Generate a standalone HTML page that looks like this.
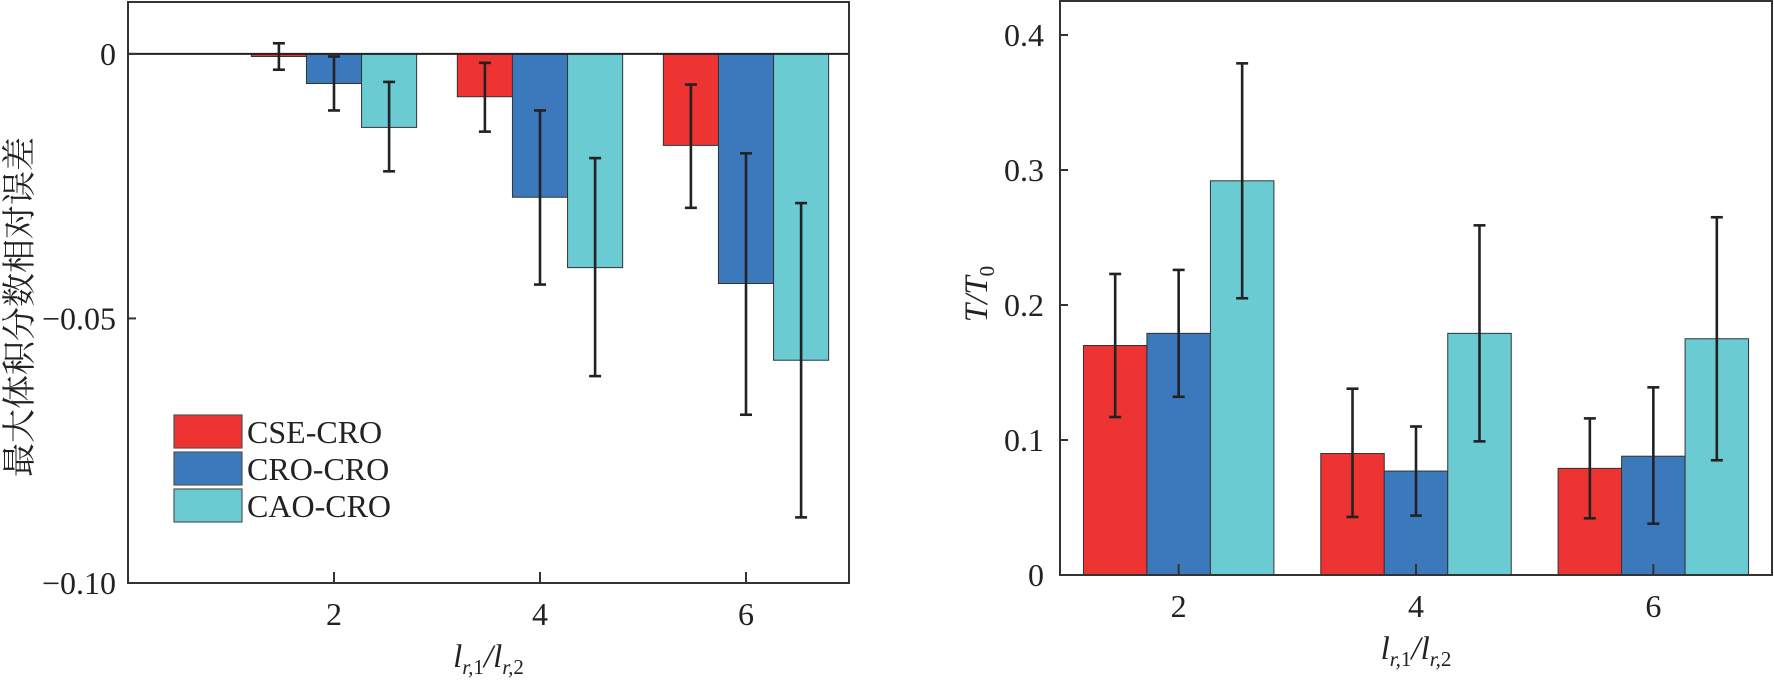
<!DOCTYPE html>
<html><head><meta charset="utf-8">
<style>
html,body{margin:0;padding:0;background:#fff;}
svg{display:block;}
text{font-family:"Liberation Serif","Noto Serif CJK SC",serif;fill:#222;}
</style></head>
<body>
<svg id="chart" width="1774" height="682" viewBox="0 0 1774 682" xmlns="http://www.w3.org/2000/svg">
<g id="left"></g>
<g id="right"></g>
</svg>
<script>
// ---- data ----
const categories = [2, 4, 6];
const seriesNames = ["CSE-CRO", "CRO-CRO", "CAO-CRO"];
const colors = ["#EE3333", "#3C78BC", "#6ACBD3"];
// left chart: max volume fraction relative error
const leftCSE = [-0.0005, -0.0081, -0.0173];
const leftCRO = [-0.0056, -0.0271, -0.0434];
const leftCAO = [-0.0139, -0.0404, -0.0579];
const leftCSEHi = [0.0020, -0.0017, -0.0058];
const leftCSELo = [-0.0030, -0.0147, -0.0291];
const leftCROHi = [-0.0005, -0.0107, -0.0188];
const leftCROLo = [-0.0107, -0.0436, -0.0682];
const leftCAOHi = [-0.0053, -0.0197, -0.0282];
const leftCAOLo = [-0.0222, -0.0609, -0.0876];
const leftTicks = [0, -0.05, -0.10];
const leftTickLabels = ["0", "\u22120.05", "\u22120.10"];
// right chart: T/T0
const rightCSE = [0.170, 0.090, 0.079];
const rightCRO = [0.179, 0.077, 0.088];
const rightCAO = [0.292, 0.179, 0.175];
const rightCSEHi = [0.223, 0.138, 0.116];
const rightCSELo = [0.117, 0.043, 0.042];
const rightCROHi = [0.226, 0.110, 0.139];
const rightCROLo = [0.132, 0.044, 0.038];
const rightCAOHi = [0.379, 0.259, 0.265];
const rightCAOLo = [0.205, 0.099, 0.085];
const rightTicks = [0, 0.1, 0.2, 0.3, 0.4];
const rightTickLabels = ["0", "0.1", "0.2", "0.3", "0.4"];

const NS = "http://www.w3.org/2000/svg";
function mk(parent, tag, attrs, text){
  const e = document.createElementNS(NS, tag);
  for (const k in attrs) e.setAttribute(k, attrs[k]);
  if (text !== undefined) e.textContent = text;
  parent.appendChild(e);
  return e;
}

function drawChart(g, cfg){
  const {L,R,T,B,xmin,xmax,ymin,ymax,vals,his,los,ticks,tickLabels,tickFrom,prefix,zeroLine} = cfg;
  const xs = v => L + (v - xmin) / (xmax - xmin) * (R - L);
  const ys = v => B - (v - ymin) / (ymax - ymin) * (B - T);
  const bw = 0.535;
  const base = Math.max(ymin, Math.min(ymax, 0));
  for (let s = 0; s < 3; s++){
    for (let c = 0; c < categories.length; c++){
      const cx = categories[c] + (s - 1) * bw;
      const x0 = xs(cx - bw/2), x1 = xs(cx + bw/2);
      const yv = ys(vals[s][c]), yb = ys(base);
      const r = mk(g, "rect", {x:x0, y:Math.min(yv,yb), width:x1-x0, height:Math.max(0.8,Math.abs(yb-yv)), fill:colors[s], stroke:"#333", "stroke-width":1});
      
      
    }
  }
  for (let s = 0; s < 3; s++){
    for (let c = 0; c < categories.length; c++){
      const cx = xs(categories[c] + (s - 1) * bw);
      const yh = ys(his[s][c]), yl = ys(los[s][c]);
      const eg = mk(g, "g", {stroke:"#222", "stroke-width":2.6});
      
      
      mk(eg, "line", {x1:cx, x2:cx, y1:yh, y2:yl});
      mk(eg, "line", {x1:cx-6, x2:cx+6, y1:yh, y2:yh});
      mk(eg, "line", {x1:cx-6, x2:cx+6, y1:yl, y2:yl});
    }
  }
  if (zeroLine){
    const z = mk(g, "line", {x1:L, x2:R, y1:ys(0), y2:ys(0), stroke:"#222", "stroke-width":2});
    
    
  }
  const f = mk(g, "rect", {x:L, y:T, width:R-L, height:B-T, fill:"none", stroke:"#333", "stroke-width":2});
  
  
  for (let i = 0; i < ticks.length; i++){
    const y = ys(ticks[i]);
    mk(g, "line", {x1:L, x2:L+8, y1:y, y2:y, stroke:"#333", "stroke-width":2});
    const t = mk(g, "text", {x:tickFrom, y:y+11, "text-anchor":"end", "font-size":32}, tickLabels[i]);
    
    
  }
  for (let c = 0; c < categories.length; c++){
    const x = xs(categories[c]);
    mk(g, "line", {x1:x, x2:x, y1:B, y2:B-11, stroke:"#333", "stroke-width":2});
    const t = mk(g, "text", {x:x, y:B+42, "text-anchor":"middle", "font-size":32}, String(categories[c]));
    
    
  }
  const xt = mk(g, "text", {x:(L+R)/2, y:B+84, "text-anchor":"middle", "font-size":33, "font-style":"italic"});
  
  
  xt.innerHTML = 'l<tspan font-size="21" dy="7">r,</tspan><tspan font-size="21" font-style="normal">1</tspan><tspan dy="-7">/l</tspan><tspan font-size="21" dy="7">r,</tspan><tspan font-size="21" font-style="normal">2</tspan>';
}

const left = document.getElementById('left');
drawChart(left, {L:128, R:849, T:2, B:583, xmin:0, xmax:7, ymin:-0.10, ymax:0.0098,
  vals:[leftCSE,leftCRO,leftCAO], his:[leftCSEHi,leftCROHi,leftCAOHi], los:[leftCSELo,leftCROLo,leftCAOLo],
  ticks:leftTicks, tickLabels:leftTickLabels, tickFrom:116, prefix:"left", zeroLine:true});

const right = document.getElementById('right');
drawChart(right, {L:1060, R:1772, T:1, B:575, xmin:1, xmax:7, ymin:0, ymax:(575-1)/1350,
  vals:[rightCSE,rightCRO,rightCAO], his:[rightCSEHi,rightCROHi,rightCAOHi], los:[rightCSELo,rightCROLo,rightCAOLo],
  ticks:rightTicks, tickLabels:rightTickLabels, tickFrom:1044, prefix:"right", zeroLine:false});

const yt = mk(left, "text", {x:0, y:0, transform:"translate(31,307) rotate(-90)", "text-anchor":"middle", "font-size":34});
yt.textContent = "最大体积分数相对误差";



const ryt = mk(right, "text", {x:0, y:0, transform:"translate(987,294) rotate(-90)", "text-anchor":"middle", "font-size":33, "font-style":"italic"});
ryt.innerHTML = 'T/T<tspan font-size="21" font-style="normal" dy="7">0</tspan>';



const lg = mk(left, "g", {});


for (let s = 0; s < 3; s++){
  const y = 415 + s * 37;
  const e = mk(lg, "g", {});
  
  
  mk(e, "rect", {x:174, y:y, width:68, height:33, fill:colors[s], stroke:"#555", "stroke-width":1.2});
  mk(e, "text", {x:247, y:y+28, "font-size":32}, seriesNames[s]);
}
</script>
</body></html>
